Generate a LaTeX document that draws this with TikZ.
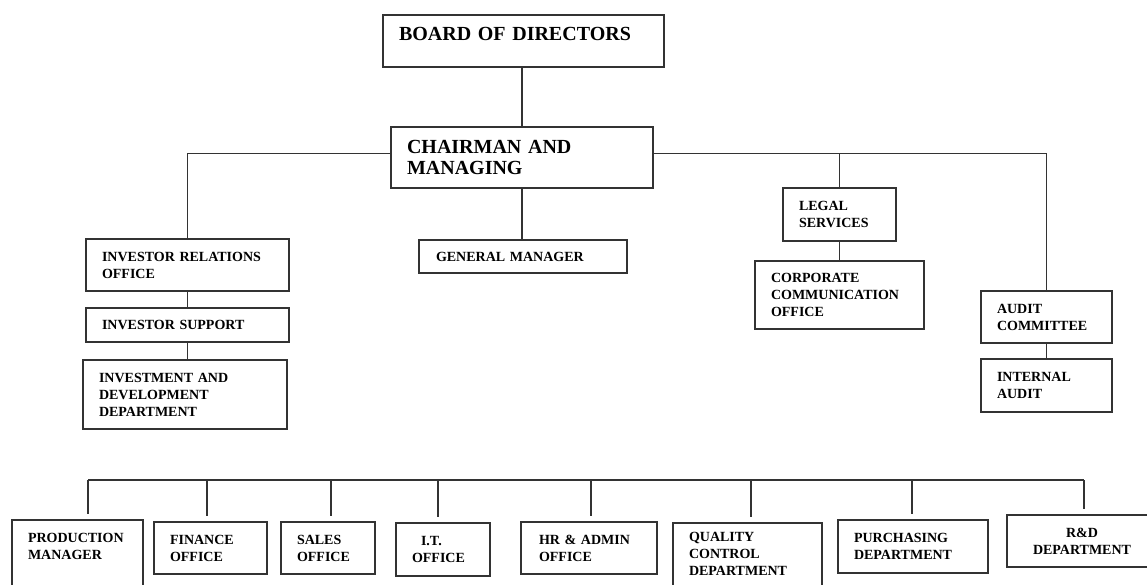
\documentclass[tikz,border=0pt]{standalone}
\usepackage{fontspec}
\setmainfont{Liberation Serif}
\usepackage{tikz}
\usetikzlibrary{
  calc,
  positioning
}

\begin{document}
\begin{tikzpicture}[x=1pt,y=1pt]
  \tikzset{
    box/.style={
      draw=black!80, line width=1.3pt, inner xsep=16pt, inner ysep=2pt,
      align=left, font=\bfseries\fontsize{14pt}{17pt}\selectfont
    },
    big/.style={
      font=\bfseries\fontsize{20pt}{21pt}\selectfont
    },
    link/.style={
      draw=black!80, line width=1.3pt
    },
  }
  \useasboundingbox (0,0) rectangle (1147,-584);

  \node[box,big,text width=249pt,minimum height=52pt,text depth=14pt] (board) at (523.5,-41) {BOARD OF DIRECTORS};
  \node[box,big,text width=230pt,minimum height=61pt] (chair) at (522,-157.5) {CHAIRMAN AND\\MANAGING};

  \node[box,text width=171pt,minimum height=52pt] (irel) at (187.5,-265) {INVESTOR RELATIONS\\OFFICE};
  \node[box,text width=171pt,minimum height=34pt] (isup) at (187.5,-325) {INVESTOR SUPPORT};
  \node[box,text width=172pt,minimum height=69pt] (invdev) at (185,-394.5) {INVESTMENT AND\\DEVELOPMENT\\DEPARTMENT};

  \node[box,text width=174pt,minimum height=33pt,inner xsep=17pt] (gm) at (523,-256.5) {GENERAL MANAGER};

  \node[box,text width=81pt,minimum height=53pt] (legal) at (839.5,-214.5) {LEGAL\\SERVICES};
  \node[box,text width=137pt,minimum height=68pt] (corp) at (839.5,-295) {CORPORATE\\COMMUNICATION\\OFFICE};

  \node[box,text width=99pt,minimum height=52pt] (audit) at (1046.5,-317) {AUDIT\\COMMITTEE};
  \node[box,text width=99pt,minimum height=53pt] (intaud) at (1046.5,-385.5) {INTERNAL\\AUDIT};

  \node[box,text width=99pt,minimum height=72pt,text depth=36pt] (prod) at (77.5,-556) {PRODUCTION\\MANAGER};
  \node[box,text width=81pt,minimum height=52pt] (fin) at (210.5,-548) {FINANCE\\OFFICE};
  \node[box,text width=62pt,minimum height=52pt] (sales) at (328,-548) {SALES\\OFFICE};
  \node[box,text width=62pt,minimum height=53pt] (it) at (443,-549.5) {\hspace*{9pt}I.T.\\OFFICE};
  \node[box,text width=100pt,minimum height=52pt,inner xsep=18pt] (hr) at (589,-548) {HR \& ADMIN\\OFFICE};
  \node[box,text width=117pt,minimum height=70pt,text depth=43pt] (qc) at (747.5,-558) {QUALITY\\CONTROL\\DEPARTMENT};
  \node[box,text width=118pt,minimum height=53pt] (purch) at (913,-546.5) {PURCHASING\\DEPARTMENT};
  \node[box,text width=118pt,minimum height=52pt,align=center] (rnd) at (1082,-541) {R\&D\\DEPARTMENT};

  \coordinate (cl) at ([yshift=4pt]chair.west);
  \coordinate (cr) at ([yshift=4pt]chair.east);

  \draw[link] (board.south -| chair.north) -- (chair.north);
  \draw[link] (cl) -| (irel.north);
  \draw[link] (cr) -| (audit.north);
  \draw[link] (legal.north) -- (legal.north |- cr);
  \draw[link] (chair.south) -- (chair.south |- gm.north);

  \draw[link] (irel) -- (isup);
  \draw[link] (isup.south) -- (isup.south |- invdev.north);
  \draw[link] (legal) -- (corp);
  \draw[link] (audit) -- (intaud);

  \foreach \n/\x in {prod/88, fin/207, sales/331, it/438, hr/591, qc/751, purch/912, rnd/1084} {
    \coordinate (d\n) at (\x,-480);
    \draw[link,shorten >=5pt] (d\n) -- (d\n |- \n.north);
  }
  \draw[link] (dprod) -- (drnd);
  \draw[link] (gm.south -| chair.south) -- (gm.south -| chair.south |- dprod);
\end{tikzpicture}
\end{document}
